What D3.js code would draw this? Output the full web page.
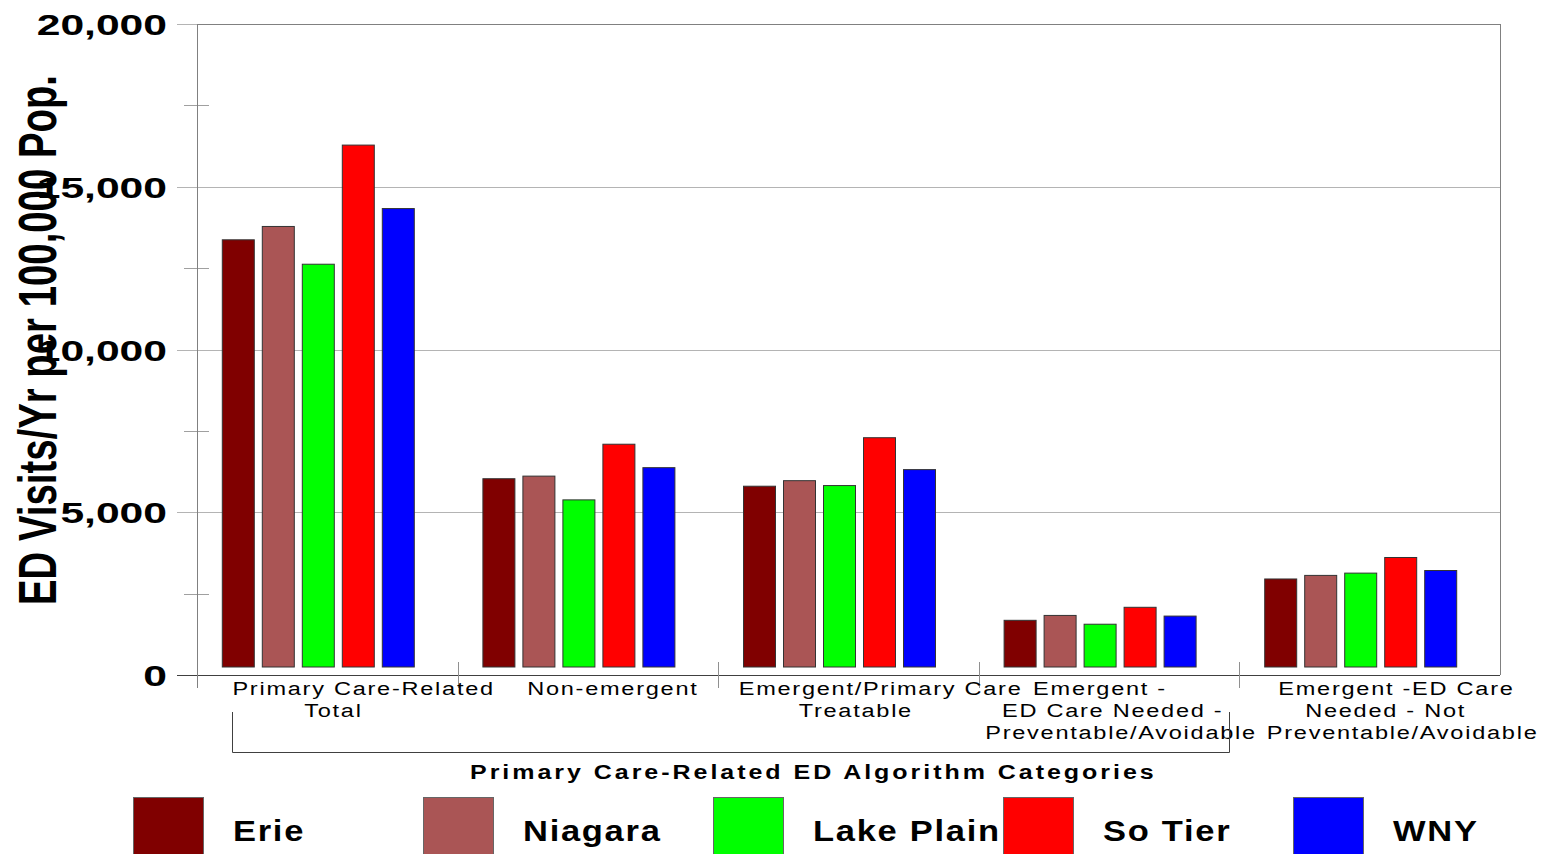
<!DOCTYPE html>
<html>
<head>
<meta charset="utf-8">
<script src="https://cdn.jsdelivr.net/npm/d3@7"></script>
<style>
  html, body { margin: 0; padding: 0; background: #fff; }
  svg { display: block; font-family: "Liberation Sans", Arial, sans-serif; }
</style>
</head>
<body>
<svg id="chart" width="1563" height="854"></svg>
<script>
// ---- data ----
const categories = ["PCR Total", "Non-emergent", "Emergent/PC Treatable", "Emergent Preventable", "Emergent Not Preventable"];
const categoryLabels = [
  ["Primary Care-Related", "Total"],
  ["Non-emergent"],
  ["Emergent/Primary Care", "Treatable"],
  ["Emergent -", "ED Care Needed -", "Preventable/Avoidable"],
  ["Emergent -ED Care", "Needed - Not", "Preventable/Avoidable"]
];
const seriesNames = ["Erie", "Niagara", "Lake Plain", "So Tier", "WNY"];
const erie      = [13370, 6030, 5800, 1680, 2950];
const niagara   = [13780, 6110, 5970, 1830, 3060];
const lakePlain = [12620, 5380, 5820, 1560, 3130];
const soTier    = [16280, 7090, 7290, 2080, 3610];
const wny       = [14330, 6370, 6310, 1810, 3210];
const seriesValues = [erie, niagara, lakePlain, soTier, wny];
const seriesColors = ["#800000", "#AA5555", "#00FF00", "#FF0000", "#0000FF"];
const yTicks = [0, 5000, 10000, 15000, 20000];
const yMinorTicks = [2500, 7500, 12500, 17500];
const yTitle = "ED Visits/Yr per 100,000 Pop.";
const xTitle = "Primary Care-Related ED Algorithm Categories";

// ---- layout ----
const svg = d3.select("#chart");
const plot = { left: 197, right: 1500, top: 24, bottom: 675 };
const labelDx = [-3, 0, -10, -29, -8];

const y = d3.scaleLinear().domain([0, 20000]).range([plot.bottom, plot.top]);
const x0 = d3.scaleBand().domain(categories).range([plot.left, plot.right]).padding(0);
const groupW = 192;
const x1 = d3.scaleBand().domain(seriesNames).range([0, groupW]).paddingInner(0.2).paddingOuter(0);
const groupShift = -9;
const baseGap = 8;

function stretched(parent, str, left, base, size, weight, sx, ls) {
  return parent.append("text")
    .attr("x", 0).attr("y", 0)
    .attr("font-size", size).attr("font-weight", weight)
    .attr("letter-spacing", ls)
    .attr("transform", `translate(${left},${base}) scale(${sx},1)`)
    .text(str);
}
function naturalWidth(str, size, weight) {
  const t = svg.append("text").attr("font-size", size).attr("font-weight", weight).text(str);
  const w = t.node().getComputedTextLength();
  t.remove();
  return w;
}

// gridlines
svg.append("g").selectAll("line").data(yTicks).join("line")
  .attr("x1", 177).attr("x2", plot.right)
  .attr("y1", d => Math.round(y(d)) + 0.5).attr("y2", d => Math.round(y(d)) + 0.5)
  .attr("stroke", d => d === 0 ? "#404040" : "#b4b4b4").attr("stroke-width", 1);

// minor ticks
svg.append("g").selectAll("line").data(yMinorTicks).join("line")
  .attr("x1", 184).attr("x2", 209)
  .attr("y1", d => Math.round(y(d)) + 0.5).attr("y2", d => Math.round(y(d)) + 0.5)
  .attr("stroke", "#a0a0a0");

// frame
svg.append("line").attr("x1", plot.left + 0.5).attr("x2", plot.left + 0.5)
  .attr("y1", plot.top).attr("y2", 688).attr("stroke", "#808080");
svg.append("line").attr("x1", plot.right + 0.5).attr("x2", plot.right + 0.5)
  .attr("y1", plot.top).attr("y2", plot.bottom).attr("stroke", "#808080");
svg.append("line").attr("x1", plot.left).attr("x2", plot.right)
  .attr("y1", plot.top + 0.5).attr("y2", plot.top + 0.5).attr("stroke", "#808080");

// category separator ticks
svg.append("g").selectAll("line").data(categories.slice(1)).join("line")
  .attr("x1", d => Math.round(x0(d)) + 0.5).attr("x2", d => Math.round(x0(d)) + 0.5)
  .attr("y1", 662).attr("y2", 688).attr("stroke", "#909090");

// bars
const groups = svg.append("g").selectAll("g").data(categories).join("g")
  .attr("transform", d => `translate(${x0(d) + (x0.bandwidth() - groupW) / 2 + groupShift},0)`);
groups.selectAll("rect")
  .data((c, ci) => seriesNames.map((s, si) => ({ s, si, v: seriesValues[si][ci] })))
  .join("rect")
  .attr("x", d => x1(d.s))
  .attr("width", x1.bandwidth())
  .attr("y", d => y(d.v))
  .attr("height", d => y(0) - baseGap - y(d.v))
  .attr("fill", d => seriesColors[d.si])
  .attr("stroke", "#333")
  .attr("stroke-width", 1);

// y tick labels
svg.append("g").selectAll("text").data(yTicks).join("text")
  .attr("transform", d => `translate(167,${y(d) + 11}) scale(1.42,1)`)
  .attr("text-anchor", "end")
  .attr("font-size", 30).attr("font-weight", "bold")
  .text(d => d3.format(",")(d));

// y title
svg.append("text")
  .attr("transform", "translate(56,340) rotate(-90)")
  .attr("text-anchor", "middle")
  .attr("font-size", 54).attr("font-weight", "bold")
  .attr("textLength", 530).attr("lengthAdjust", "spacingAndGlyphs")
  .text(yTitle);

// category labels
const catSx = 1.24, catLs = 1.4, catSize = 19;
categoryLabels.forEach((lines, ci) => {
  const cx = x0(categories[ci]) + x0.bandwidth() / 2 + labelDx[ci];
  lines.forEach((ln, li) => {
    const w = naturalWidth(ln, catSize, "normal");
    stretched(svg, ln, cx - w / 2, 695 + li * 22, catSize, "normal", catSx, catLs);
  });
});

// bracket
const bx1 = 232, bx2 = 1229, byTop = 712, byBot = 752;
svg.append("path")
  .attr("d", `M${bx1 + 0.5},${byTop} V${byBot + 0.5} H${bx2 + 0.5} V${byTop}`)
  .attr("fill", "none").attr("stroke", "#404040");

// x title
{
  const sx = 1.25, size = 20;
  const w = naturalWidth(xTitle, size, "bold");
  const ls = (687 / sx - w) / xTitle.length;
  stretched(svg, xTitle, 470, 779, size, "bold", sx, ls);
}

// legend
const legend = svg.append("g").selectAll("g").data(seriesNames).join("g")
  .attr("transform", (d, i) => `translate(${133 + i * 290},797)`);
legend.append("rect")
  .attr("x", 0.5).attr("y", 0.5).attr("width", 70).attr("height", 60)
  .attr("fill", (d, i) => seriesColors[i]).attr("stroke", "#666");
legend.each(function (d) {
  stretched(d3.select(this), d, 100, 44, 30, "bold", 1.15, 1.5);
});
</script>
</body>
</html>
